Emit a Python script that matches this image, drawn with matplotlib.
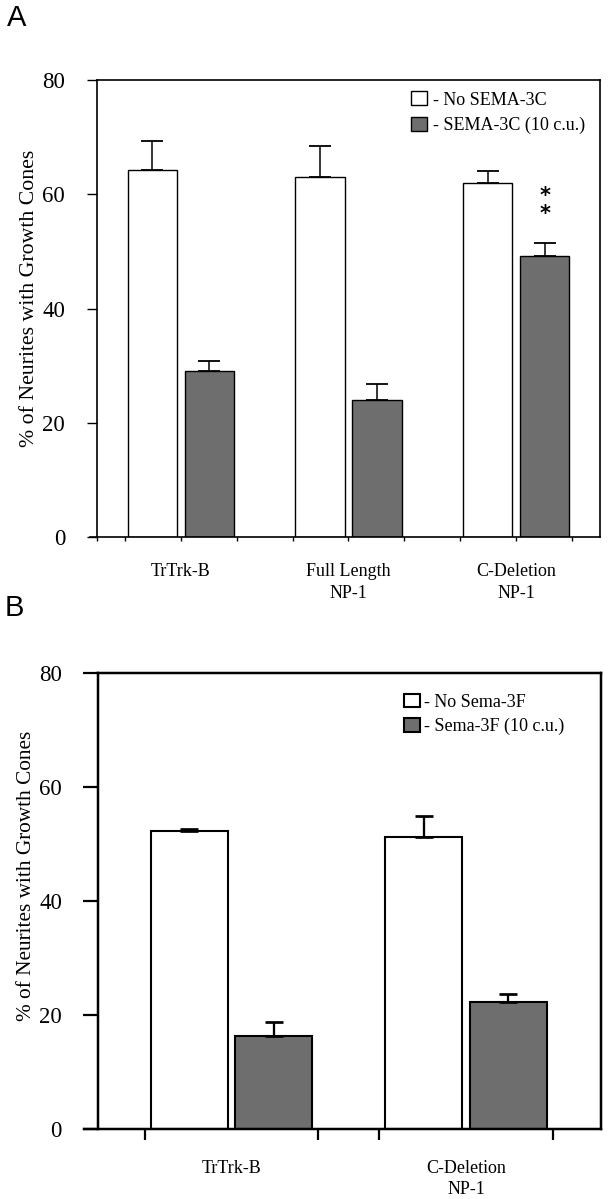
import matplotlib.pyplot as plt
import numpy as np

plt.rcParams['font.family'] = ['Liberation Serif', 'DejaVu Serif']

# panel A: SEMA-3C
groups_a = ['TrTrk-B', 'Full Length\nNP-1', 'C-Deletion\nNP-1']
ctrl_a = [64.3, 63.1, 61.9]
ctrl_a_err = [5.1, 5.4, 2.2]
sema_a = [29.0, 24.0, 49.2]
sema_a_err = [1.8, 2.8, 2.2]

# panel B: Sema-3F
groups_b = ['TrTrk-B', 'C-Deletion\nNP-1']
ctrl_b = [52.3, 51.3]
ctrl_b_err = [0.3, 3.6]
sema_b = [16.4, 22.3]
sema_b_err = [2.4, 1.3]

GRAY = '#6e6e6e'

fig = plt.figure(figsize=(6.1, 11.99), dpi=100)
axA = fig.add_axes([0.159, 0.5521, 0.8246, 0.3812])
axB = fig.add_axes([0.1607, 0.0584, 0.8246, 0.3803])


def draw(ax, groups, ctrl, ctrl_err, sema, sema_err, off, width, lw, cap, labels):
    x = np.arange(len(groups))
    ax.bar(x - off, ctrl, width, color='white', edgecolor='black', linewidth=lw,
           label=labels[0], zorder=2)
    ax.bar(x + off, sema, width, color=GRAY, edgecolor='black', linewidth=lw,
           label=labels[1], zorder=2)
    z = np.zeros(len(groups))
    ax.errorbar(x - off, ctrl, yerr=[z, ctrl_err], fmt='none', ecolor='black',
                elinewidth=lw * 1.1, capsize=cap, capthick=lw * 1.3, zorder=3)
    ax.errorbar(x + off, sema, yerr=[z, sema_err], fmt='none', ecolor='black',
                elinewidth=lw * 1.1, capsize=cap, capthick=lw * 1.3, zorder=3)
    ax.set_ylim(0, 80)
    ax.set_yticks([0, 20, 40, 60, 80])
    ax.set_xticks(x)
    ax.set_xticklabels(groups, linespacing=1.35)
    for s in ax.spines.values():
        s.set_linewidth(lw * 1.2)
    return x


# ---- A
xa = draw(axA, groups_a, ctrl_a, ctrl_a_err, sema_a, sema_a_err, 0.17, 0.295, 1.0, 8,
          ['- No SEMA-3C', '- SEMA-3C (10 c.u.)'])
axA.set_xlim(-0.5, 2.5)
axA.set_xticks([-0.5, -1 / 3, 1 / 3, 2 / 3, 4 / 3, 5 / 3, 7 / 3], minor=True)
axA.tick_params(axis='x', which='major', length=3, width=1.0, pad=16, labelsize=13)
axA.tick_params(axis='x', which='minor', length=3, width=1.0)
axA.tick_params(axis='y', length=7, width=1.0, pad=16, labelsize=16.5)
axA.spines['bottom'].set_bounds(-0.54, 2.5)
axA.set_ylabel('% of Neurites with Growth Cones', fontsize=15.7)
axA.yaxis.set_label_coords(-0.116, 0.522)
axA.legend(loc='upper left', bbox_to_anchor=(0.624, 0.975), frameon=False,
           fontsize=13, handlelength=0.9, handleheight=0.8, handletextpad=0.35,
           labelspacing=0.45, borderpad=0, borderaxespad=0)
axA.annotate('*\n*', (xa[2] + 0.17, sema_a[2] + sema_a_err[2]), xytext=(0, 14),
             textcoords='offset points', ha='center', va='bottom', fontsize=15,
             fontweight='bold', linespacing=0.9, family='DejaVu Sans')

# ---- B
xb = draw(axB, groups_b, ctrl_b, ctrl_b_err, sema_b, sema_b_err, 0.18, 0.328, 1.5, 6.5,
          ['- No Sema-3F', '- Sema-3F (10 c.u.)'])
axB.set_xlim(-0.569, 1.576)
axB.set_xticks([-0.37, 0.37, 0.63, 1.37], minor=True)
axB.tick_params(axis='x', which='major', length=0, pad=22, labelsize=13)
axB.tick_params(axis='x', which='minor', length=8, width=1.6)
axB.tick_params(axis='y', length=11, width=1.6, pad=15, labelsize=16.5)
axB.spines['bottom'].set_bounds(-0.63, 1.576)
axB.set_ylabel('% of Neurites with Growth Cones', fontsize=15.3)
axB.yaxis.set_label_coords(-0.124, 0.555)
axB.legend(loc='upper left', bbox_to_anchor=(0.608, 0.955), frameon=False,
           fontsize=13, handlelength=0.9, handleheight=0.8, handletextpad=0.2,
           labelspacing=0.4, borderpad=0, borderaxespad=0)

fig.text(0.028, 0.985, 'A', family='Liberation Sans', fontsize=21, ha='center', va='center')
fig.text(0.023, 0.493, 'B', family='Liberation Sans', fontsize=21, ha='center', va='center')

fig.savefig('out.png', dpi=100)
